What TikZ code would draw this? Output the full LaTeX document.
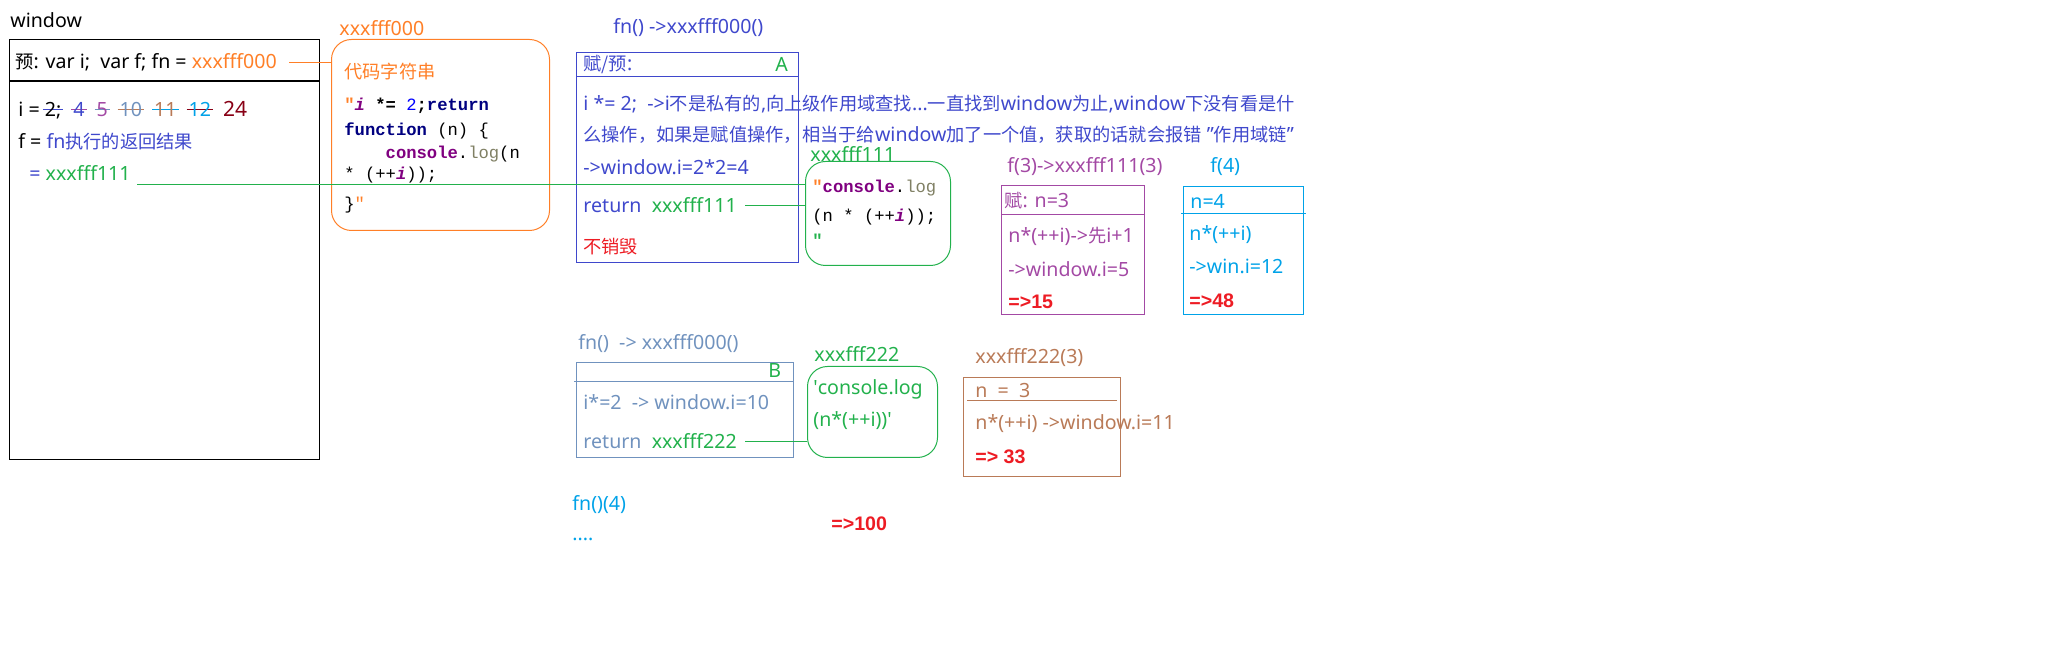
\documentclass[tikz,border=0pt]{standalone}
\usepackage{fontspec}
\setmainfont{Noto Sans}
\newfontfamily\cjk[Scale=0.93]{Noto Sans CJK SC}
\newfontfamily\codefont{Liberation Mono}
\newfontfamily\resfont{Liberation Sans}
\definecolor{ablue}{RGB}{63,72,204}
\definecolor{grn}{RGB}{34,177,76}
\definecolor{orng}{RGB}{255,127,39}
\definecolor{purp}{RGB}{163,73,164}
\definecolor{cyn}{RGB}{0,162,232}
\definecolor{slate}{RGB}{112,146,190}
\definecolor{brwn}{RGB}{185,122,87}
\definecolor{alert}{RGB}{237,28,36}
\definecolor{dred}{RGB}{136,0,21}
\definecolor{navy}{RGB}{0,0,128}
\definecolor{kw}{RGB}{128,0,128}
\definecolor{logc}{RGB}{128,128,100}
\newlength\stkw
\newcommand\stk[3]{\settowidth\stkw{#3}\makebox[0pt][l]{\hspace*{-1pt}\textcolor{#1}{\rule[0.33em]{\dimexpr\stkw+2pt\relax}{0.5pt}}}\textcolor{#2}{#3}}
\newcommand\ivar{\textcolor{kw}{\textit{i}}}
\newcommand\gap{\hspace{6pt}}

\begin{document}
\begin{tikzpicture}[x=0.5pt,y=-0.5pt,
every node/.style={inner sep=0pt,anchor=west,font=\fontsize{9.8}{11}\selectfont},
frame/.style={draw,anchor=north west,line width=0.5pt},
heap/.style={frame,rounded corners=10pt},
code/.style={font=\fontsize{8.6}{10}\selectfont\codefont\bfseries},
res/.style={alert,font=\fontsize{9.8}{11}\selectfont\resfont\bfseries}]

\useasboundingbox (0,0) rectangle (2058,656);

\node (winlbl) at (10,20) {window};
\node[frame,line width=0.65pt,minimum width=155pt,minimum height=210pt] (win) at (9,39) {};
\draw[line width=0.65pt] (win.west |- 0,81) -- (win.east |- 0,81);
\node (pre) at (15,62) {{\cjk 预}: var i;\ \ var f; fn = \textcolor{orng}{xxxfff000}};
\node (ival) at (18,110) {i = \stk{ablue}{black}{2;}\gap\stk{purp}{ablue}{4}\gap\stk{slate}{purp}{5}\gap\stk{brwn}{slate}{10}\gap\stk{cyn}{brwn}{11}\gap\stk{dred}{cyn}{12}\gap\textcolor{dred}{\fontsize{10.5}{12}\selectfont 24}};
\node (fval) at (18,142) {f = \textcolor{ablue}{fn{\cjk 执行的返回结果}}};
\node (f111) at (29,173) {\textcolor{ablue}{=} \textcolor{grn}{xxxfff111}};

\node[orng] (codelbl) at (339,28) {xxxfff000};
\node[heap,orng,minimum width=109pt,minimum height=95.5pt] (code) at (331,39) {};
\node[orng] (codestr) at (344,72) {\cjk 代码字符串};
\node[code] (c1) at (344,106) {\textcolor{orng}{"}\ivar{} *= \textcolor{blue}{\mdseries 2};\textcolor{navy}{return}};
\node[code] (c2) at (344,131) {\textcolor{navy}{function} \mdseries(n) \{};
\node[code] (c3) at (344,154) {\hphantom{xxxx}\textcolor{kw}{console}\mdseries.\textcolor{logc}{log}(n};
\node[code] (c4) at (344,175) {\mdseries * (++\textbf{\ivar}));};
\node[code] (c5) at (344,205) {\mdseries\}\textcolor{orng}{"}};
\draw[orng] ([xshift=6pt]pre.east) -- (pre.east -| code.west);

\node[ablue] (alab) at (613,28) {fn() ->xxxfff000()};
\node[frame,ablue,minimum width=111pt,minimum height=105pt] (boxA) at (576,52) {};
\draw[ablue] (boxA.west |- 0,76) -- (boxA.east |- 0,76);
\node[ablue] (ahead) at (583,64) {{\cjk 赋/预}:};
\node[grn] (aname) at (775,64) {A};
\node[ablue] (a1) at (583,104) {i *= 2;\ \ ->i{\cjk 不是私有的},{\cjk 向上级作用域查找}...{\cjk 一直找到}window{\cjk 为止},window{\cjk 下没有看是什}};
\node[ablue] (a2) at (583,135) {{\cjk 么操作，如果是赋值操作，相当于给}window{\cjk 加了一个值，获取的话就会报错} "{\cjk 作用域链}"};
\node[ablue] (a3) at (583,167) {->window.i=2*2=4};
\node[ablue] (ret1) at (583,205) {return\ \ \textcolor{grn}{xxxfff111}};
\node[alert] (keep) at (583,247) {\cjk 不销毁};

\node[grn] (h1lbl) at (810,154) {xxxfff111};
\node[heap,grn,minimum width=72.5pt,minimum height=52pt] (heap111) at (805,161) {};
\node[code] (h1a) at (812,188) {\textcolor{orng}{"}\textcolor{kw}{console}\mdseries.\textcolor{logc}{log}};
\node[code] (h1b) at (812,217) {\mdseries(n * (++\textbf{\ivar}));};
\node[code] (h1c) at (812,240) {\textcolor{grn}{"}};
\coordinate (w1) at ([xshift=3pt,yshift=-2pt]f111.base east);
\draw[grn] (w1) -- (w1 -| heap111.west);
\draw[grn] ([xshift=4pt]ret1.east) -- (ret1.east -| heap111.west);

\node[purp] (f3lbl) at (1007,167) {f(3)->xxxfff111(3)};
\node[frame,purp,minimum width=71.5pt,minimum height=64.5pt] (boxF3) at (1001,185) {};
\draw[purp] (boxF3.west |- 0,214) -- (boxF3.east |- 0,214);
\node[purp] (f3a) at (1004,201) {{\cjk 赋}: n=3};
\node[purp] (f3b) at (1008,236) {n*(++i)->{\cjk 先}i+1};
\node[purp] (f3c) at (1008,269) {->window.i=5};
\node[res] (f3r) at (1008,302) {=>15};

\node[cyn] (f4lbl) at (1210,167) {f(4)};
\node[frame,cyn,minimum width=60pt,minimum height=64pt] (boxF4) at (1183,186) {};
\draw[cyn] ([xshift=-1pt]boxF4.west |- 0,213) -- ([xshift=1pt]boxF4.east |- 0,213);
\node[cyn] (f4a) at (1190,201) {n=4};
\node[cyn] (f4b) at (1189,235) {n*(++i)};
\node[cyn] (f4c) at (1189,266) {->win.i=12};
\node[res] (f4r) at (1189,301) {=>48};

\node[slate] (blab) at (578,344) {fn()\ \ -> xxxfff000()};
\node[frame,slate,minimum width=108.5pt,minimum height=47.5pt] (boxB) at (576,362) {};
\draw[slate] ([xshift=-1pt]boxB.west |- 0,381) -- (boxB.east |- 0,381);
\node[grn] (bname) at (768,371) {B};
\node[slate] (b1) at (583,402) {i*=2\ \ -> window.i=10};
\node[slate] (ret2) at (583,441) {return\ \ \textcolor{grn}{xxxfff222}};

\node[grn] (h2lbl) at (814,354) {xxxfff222};
\node[heap,grn,minimum width=65pt,minimum height=45.5pt] (heap222) at (807,366) {};
\node[grn] (h2a) at (813,389) {\textquotesingle console.log};
\node[grn] (h2b) at (813,421) {(n*(++i))\textquotesingle};
\draw[grn] ([xshift=4pt]ret2.east) -- (ret2.east -| heap222.west);

\node[brwn] (glbl) at (975,358) {xxxfff222(3)};
\node[frame,brwn,minimum width=78.5pt,minimum height=49.5pt] (boxG) at (963,377) {};
\draw[brwn] ([xshift=2pt]boxG.west |- 0,400) -- ([xshift=-2pt]boxG.east |- 0,400);
\node[brwn] (g1) at (975,391) {n\ \ =\ \ 3};
\node[brwn] (g2) at (975,424) {n*(++i) ->window.i=11};
\node[res] (gr) at (975,457) {=> 33};

\node[cyn] (call4) at (572,505) {fn()(4)};
\node[cyn] (dots) at (572,539) {....};
\node[res] (r100) at (831,524) {=>100};

\end{tikzpicture}
\end{document}
